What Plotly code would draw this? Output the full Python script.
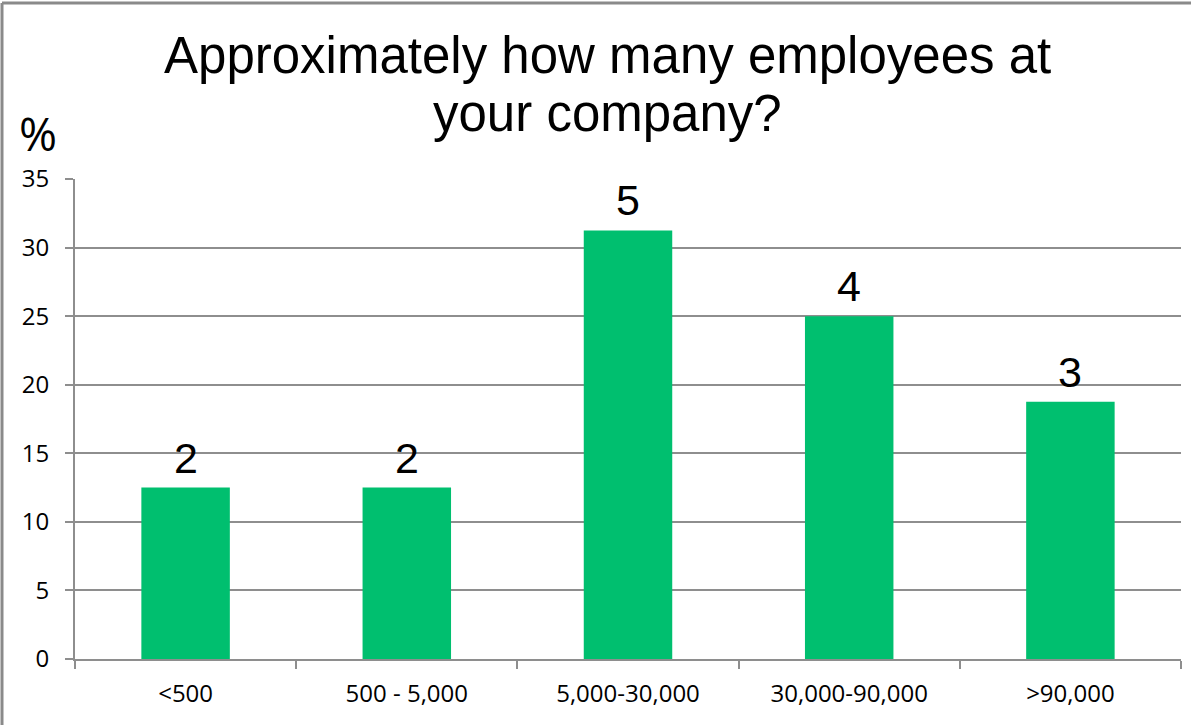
import plotly.graph_objects as go

# Survey responses: company size buckets and respondent counts
categories = ["<500", "500 - 5,000", "5,000-30,000", "30,000-90,000", ">90,000"]
counts = [2, 2, 5, 4, 3]
y_ticks = [0, 5, 10, 15, 20, 25, 30, 35]

total = sum(counts)
percent = [c / total * 100 for c in counts]

W, H = 1191, 725
L, R, T, B = 75, 10, 179, 66
plot_w = W - L - R
plot_h = H - T - B


def px_x(px):
    return (px - L) / plot_w


def px_y(py):
    return (H - B - py) / plot_h


GRID = "#8e8e8e"
GREEN = "#00bf6f"
TICK_FONT = dict(family="Open Sans", size=24, color="#000")

fig = go.Figure(
    go.Bar(
        x=categories,
        y=percent,
        width=0.4,
        marker=dict(color=GREEN, line=dict(width=0)),
        hoverinfo="skip",
    )
)

# Respondent count above each bar
for cat, pct, n in zip(categories, percent, counts):
    fig.add_annotation(
        x=cat, y=pct, text=str(n), xref="x", yref="y",
        xanchor="center", yanchor="bottom", yshift=4, showarrow=False,
        font=dict(family="Liberation Sans, Arial", size=43, color="#000"),
    )

fig.update_layout(
    width=W,
    height=H,
    margin=dict(l=L, r=R, t=T, b=B, pad=0),
    paper_bgcolor="white",
    plot_bgcolor="white",
    showlegend=False,
    font=dict(family="Open Sans", size=24, color="#000"),
    bargap=0.6,
)

fig.update_yaxes(
    range=[0, 35],
    tickvals=y_ticks,
    tickfont=TICK_FONT,
    showgrid=True,
    gridcolor=GRID,
    gridwidth=2,
    showline=True,
    linecolor=GRID,
    linewidth=2,
    ticks="outside",
    ticklen=8,
    tickwidth=2,
    tickcolor=GRID,
    ticklabelstandoff=11,
    zeroline=False,
    fixedrange=True,
)

fig.update_xaxes(
    tickfont=TICK_FONT,
    showgrid=False,
    showline=True,
    linecolor=GRID,
    linewidth=2,
    ticks="outside",
    tickson="boundaries",
    ticklen=8,
    tickwidth=2,
    tickcolor=GRID,
    ticklabelstandoff=12,
    fixedrange=True,
)

title_font = dict(family="Liberation Sans, Arial", size=51, color="#000")
title_x = px_x(607)
fig.add_annotation(
    text="Approximately how many employees at",
    xref="paper", yref="paper", x=title_x, y=px_y(55),
    xanchor="center", yanchor="middle", showarrow=False, font=title_font,
)
fig.add_annotation(
    text="your company?",
    xref="paper", yref="paper", x=title_x, y=px_y(113),
    xanchor="center", yanchor="middle", showarrow=False, font=title_font,
)
fig.add_annotation(
    text="%",
    xref="paper", yref="paper", x=px_x(38), y=px_y(133),
    xanchor="center", yanchor="middle", showarrow=False,
    font=dict(family="Open Sans", size=46, color="#000"),
)

# Outer frame lines (top and left edges)
frame = dict(color="#8a8a8a", width=3)
fig.add_shape(type="line", xref="paper", yref="paper",
              x0=px_x(2), x1=px_x(W + 5), y0=px_y(3), y1=px_y(3), line=frame)
fig.add_shape(type="line", xref="paper", yref="paper",
              x0=px_x(2), x1=px_x(2), y0=px_y(3), y1=px_y(H + 5), line=frame)

fig.write_html("out.html")
